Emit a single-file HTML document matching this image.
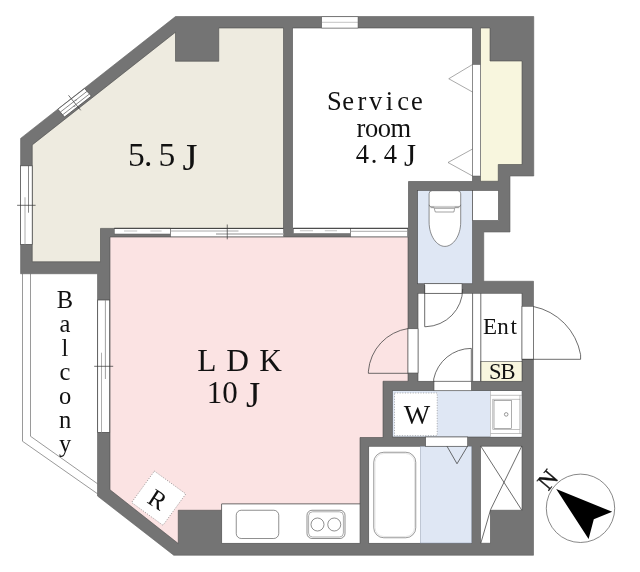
<!DOCTYPE html>
<html lang="en">
<head>
<meta charset="utf-8">
<title>Floor plan</title>
<style>
  html, body { margin: 0; padding: 0; background: #ffffff; }
  body { width: 640px; height: 572px; overflow: hidden; }
  svg { display: block; will-change: transform; }
  text { font-family: "Liberation Serif", "Noto Serif CJK JP", serif; fill: #111; }
</style>
</head>
<body>
<svg width="640" height="572" viewBox="0 0 640 572">
  <rect x="0" y="0" width="640" height="572" fill="#ffffff"/>

  <!-- ===== WALL MASS ===== -->
  <g id="walls" fill="#747474" stroke="#5e5e5e" stroke-width="0.6" stroke-linejoin="miter">
    <polygon points="175.5,16.5 533.75,16.5 533.75,176 510,176 510,232 483.75,232 483.75,281.25 533.5,281.25 533.5,555.25 173.75,555.25 97.5,496 97.5,273.75 20.6,273.75 20.6,138.4"/>
  </g>

  <!-- ===== ROOM FILLS ===== -->
  <g id="rooms" stroke="#4a4a4a" stroke-width="0.6">
    <!-- 5.5J -->
    <polygon fill="#eeebe0" points="32.25,144.9 175.5,32.2 175.5,61.25 218.75,61.25 218.75,28 283.5,28 283.5,228.4 100.5,228.4 100.5,261.75 32.25,261.75"/>
    <!-- service room -->
    <polygon fill="#ffffff" points="292.5,28 472.5,28 472.5,181.5 408.5,181.5 408.5,228.4 292.5,228.4"/>
    <!-- closet -->
    <polygon fill="#f8f6de" points="480.5,28 490,28 490,61 522,61 522,164.5 498.25,164.5 498.25,181.25 480.5,181.25"/>
    <!-- LDK -->
    <polygon fill="#fbe3e3" points="110,237 408,237 408,381.25 383,381.25 383,437.5 360,437.5 360,504 221.75,504 221.75,510.25 178.25,510.25 178.25,543.5 110,489.75"/>
    <!-- toilet -->
    <rect fill="#dfe7f4" x="417.6" y="190.4" width="55" height="93.35"/>
    <rect fill="#ffffff" x="472.6" y="190.4" width="25.9" height="30.2"/>
    <!-- hall + ent -->
    <rect fill="#ffffff" x="418" y="293.25" width="104" height="88"/>
    <rect fill="#f8f6de" x="480.8" y="361.5" width="41.2" height="19.75"/>
    <!-- washroom -->
    <rect fill="#dfe7f4" x="392.3" y="390.7" width="129.5" height="46.3"/>
    <rect fill="#ffffff" stroke="none" x="490.3" y="391" width="31.3" height="45.7"/>
    <!-- bath -->
    <rect fill="#ffffff" x="368.75" y="446.25" width="103" height="97"/>
    <rect fill="#dfe7f4" stroke="#8f9bb0" stroke-width="0.5" x="420.5" y="446.5" width="51" height="96.5"/>
    <!-- PS -->
    <polygon fill="#ffffff" points="480.5,446.25 522,446.25 522,510.25 490.5,510.25 490.5,543.25 480.5,543.25"/>
    <!-- kitchen counter -->
    <rect fill="#ffffff" x="221.75" y="504" width="138.25" height="39.25"/>
  </g>

  <!-- ===== OPENINGS (doors) ===== -->
  <g id="openings" fill="#ffffff" stroke="#4a4a4a" stroke-width="0.6">
    <rect x="408" y="328.75" width="10" height="44.25"/>
    <rect x="424.5" y="283.75" width="37.5" height="9.5"/>
    <rect x="434" y="381.25" width="37.5" height="9.5"/>
    <rect x="425.6" y="437" width="42.1" height="9.25"/>
    <rect x="522" y="306.25" width="11.5" height="53"/>
  </g>

  <!-- closet folding door -->
  <g id="closetdoor" stroke="#555" stroke-width="0.5" fill="#ffffff">
    <rect x="472.5" y="64.5" width="8" height="111.5"/>
    <polygon points="472.5,64.5 448.75,78.75 472.5,92"/>
    <polygon points="472.5,149 448,162.5 472.5,176"/>
  </g>

  <!-- ===== SLIDING DOORS (top of LDK) ===== -->
  <g id="sliding">
    <!-- 5.5J / LDK -->
    <rect x="114.3" y="228.4" width="56.3" height="5.6" fill="#fff" stroke="#555" stroke-width="0.5"/>
    <path d="M124,231 H137.2 M150.3,231 H161.6" stroke="#c4c4c4" stroke-width="1.1" fill="none"/>
    <rect x="170.6" y="228.4" width="112.9" height="8.4" fill="#fff" stroke="#555" stroke-width="0.5"/>
    <line x1="170.6" y1="228.4" x2="283.5" y2="228.4" stroke="#333" stroke-width="0.9"/>
    <line x1="170.6" y1="231" x2="238.5" y2="231" stroke="#aaa" stroke-width="1"/>
    <line x1="216" y1="234" x2="283.5" y2="234" stroke="#b4b4b4" stroke-width="1.3"/>
    <line x1="227.25" y1="224.5" x2="227.25" y2="239.3" stroke="#333" stroke-width="0.7"/>
    <!-- service / LDK -->
    <rect x="293.3" y="228.4" width="57.3" height="5.2" fill="#fff" stroke="#555" stroke-width="0.5"/>
    <path d="M299.9,230.8 H313 M324.8,230.8 H337" stroke="#c4c4c4" stroke-width="1.1" fill="none"/>
    <rect x="350.6" y="228.4" width="57" height="8.4" fill="#fff" stroke="#555" stroke-width="0.5"/>
    <line x1="350.6" y1="231.3" x2="407" y2="231.3" stroke="#aaa" stroke-width="1"/>
    <line x1="293.3" y1="228.3" x2="408" y2="228.3" stroke="#333" stroke-width="0.9"/>
    <line x1="114.3" y1="228.3" x2="170.6" y2="228.3" stroke="#333" stroke-width="0.9"/>
  </g>

  <!-- ===== WINDOWS ===== -->
  <g id="windows" stroke="#555" stroke-width="0.5">
    <!-- service room top -->
    <rect x="321.75" y="16.8" width="36.25" height="11.2" fill="#fff"/>
    <line x1="321.75" y1="22.3" x2="358" y2="22.3" stroke="#888"/>
    <!-- 5.5J left -->
    <rect x="20.4" y="165.8" width="11.8" height="78.7" fill="#fff" stroke="#444" stroke-width="0.7"/>
    <line x1="28.5" y1="165.8" x2="28.5" y2="212.7" stroke="#555" stroke-width="0.7"/>
    <line x1="25" y1="197.3" x2="25" y2="244.5" stroke="#999" stroke-width="0.8"/>
    <line x1="17.1" y1="205.3" x2="35.6" y2="205.3" stroke="#333" stroke-width="0.7"/>
    <!-- 5.5J diagonal -->
    <polygon fill="#fff" stroke="#444" stroke-width="0.7" points="57.9,109.2 84.6,88.5 91.3,96.1 64.5,117"/>
    <line x1="60.35" y1="112.1" x2="87.05" y2="91.3" stroke="#555" stroke-width="0.7"/>
    <line x1="62.65" y1="114.8" x2="89.4" y2="94" stroke="#555" stroke-width="0.7"/>
    <line x1="68.5" y1="95.3" x2="80.7" y2="110.3" stroke="#333" stroke-width="0.7"/>
    <line x1="74.6" y1="100.3" x2="76.6" y2="100.3" stroke="#666" stroke-width="0.6"/>
    <line x1="73.4" y1="106.3" x2="75.4" y2="106.3" stroke="#666" stroke-width="0.6"/>
    <!-- LDK left -->
    <rect x="97.7" y="300" width="12" height="132.4" fill="#fff" stroke="#444" stroke-width="0.7"/>
    <line x1="105.4" y1="300" x2="105.4" y2="379" stroke="#888" stroke-width="0.8"/>
    <line x1="101.5" y1="352.7" x2="101.5" y2="432.4" stroke="#999" stroke-width="0.8"/>
    <line x1="94.2" y1="366.3" x2="113.2" y2="366.3" stroke="#333" stroke-width="0.7"/>
  </g>

  <!-- ===== BALCONY ===== -->
  <g id="balcony" fill="none" stroke="#555" stroke-width="0.6">
    <polyline points="22.5,273.75 22.5,441.25 97.5,493.75"/>
    <polyline points="30.5,273.75 30.5,436.25 97.5,483.75"/>
  </g>

  <!-- ===== DOOR SWINGS ===== -->
  <g id="swings" fill="none" stroke="#3c3c3c" stroke-width="0.75">
    <!-- LDK door -->
    <path d="M408.25,373.3 H368.4 V371.2 A47,47 0 0 1 408.25,328.5"/>
    <!-- toilet door -->
    <path d="M424.7,285 V326.7 H426 A38,38 0 0 0 462.7,289"/>
    <!-- hall to washroom door -->
    <path d="M433.7,381.6 V379 A38.5,38.5 0 0 1 471.3,348.4 V381.3"/>
    <!-- entrance door -->
    <path d="M522,359.3 H580.6 V354.7 A60,60 0 0 0 533.4,306.5"/>
    <!-- bath door marker -->
    <polyline points="447,446.25 457,463.75 467.5,446.25"/>
    <!-- hall / ent step lines -->
    <line x1="472.6" y1="293.25" x2="472.6" y2="381.25"/>
    <line x1="480.8" y1="293.25" x2="480.8" y2="381.25"/>
    <!-- white box left line -->
    <!-- PS cross -->
    <line x1="480.7" y1="446" x2="521.8" y2="510.2"/>
    <polyline points="521.8,446 490.6,509.6 480.8,543.2"/>
  </g>

  <!-- ===== FIXTURES ===== -->
  <g id="fixtures" fill="#ffffff" stroke="#555" stroke-width="0.6">
    <!-- toilet -->
    <path d="M432.1,190.7 H457.7 Q460.7,190.7 460.7,193.7 V222 C460.7,236 453,246.4 444.9,246.4 C436.8,246.4 429.1,236 429.1,222 V193.7 Q429.1,190.7 432.1,190.7 Z" stroke="#444"/>
    <rect x="430.6" y="205.9" width="28.6" height="2.4" fill="#cfcfcf" stroke="none"/>
    <path d="M429.1,204.8 Q429.5,207.2 431.8,207.2 H434.2 M460.7,204.8 Q460.3,207.2 458,207.2 H454.7" fill="none" stroke="#555"/>
    <polygon points="434.2,208.3 454.7,208.3 453.9,212 435.3,212" stroke="#666"/>
    <!-- bathtub -->
    <rect x="373.75" y="452.25" width="42" height="85.5" rx="10" ry="10" stroke="#555"/>
    <rect x="375" y="453.5" width="39.5" height="83" rx="9" ry="9" stroke="#d5d5d5"/>
    <!-- kitchen sink -->
    <rect x="236.25" y="510.25" width="42.5" height="28.25" rx="5" ry="5" stroke="#444"/>
    <!-- stove -->
    <rect x="307" y="510.25" width="38" height="28.25" rx="5" ry="5" stroke="#444"/>
    <rect x="308.6" y="511.8" width="34.8" height="25.2" rx="4" ry="4" stroke="#777"/>
    <circle cx="317.5" cy="524.5" r="6.5" stroke="#444"/>
    <circle cx="334.25" cy="524.5" r="6.5" stroke="#444"/>
    <!-- washbasin -->
    <line x1="490.5" y1="395.3" x2="522" y2="395.3" stroke="#999"/>
    <line x1="490.5" y1="433.5" x2="522" y2="433.5" stroke="#999"/>
    <line x1="519.9" y1="395.3" x2="519.9" y2="433.5" stroke="#999"/>
    <rect x="492.8" y="399.2" width="27.1" height="30.4" stroke="#999"/>
    <rect x="494" y="400.4" width="17.5" height="28" stroke="#777"/>
    <line x1="490.5" y1="391" x2="490.5" y2="436.8" stroke="#aaa"/>
    <circle cx="506.2" cy="414.4" r="1.8" stroke="#555"/>
    <!-- W box -->
    <rect x="394.5" y="393" width="42.7" height="42.6" stroke="#777" stroke-dasharray="1 1.6"/>
  </g>

  <!-- R (fridge) -->
  <g transform="translate(158.7,498.2) rotate(36)">
    <rect x="-19.4" y="-19.4" width="38.8" height="38.8" fill="#ffffff" stroke="#666" stroke-width="0.6" stroke-dasharray="1 1.6"/>
  </g>
  <text transform="translate(157.4,499.6) rotate(33)" text-anchor="middle" x="0" y="8.2" font-size="25">R</text>

  <!-- ===== COMPASS ===== -->
  <circle cx="580.5" cy="508.3" r="34.2" fill="#ffffff" stroke="#555" stroke-width="0.7"/>
  <polygon points="556.2,489.1 612.2,511.8 593.8,519.3 588.6,538.9" fill="#000000"/>
  <text transform="translate(547.6,479.7) rotate(-50)" text-anchor="middle" x="0" y="8" font-size="24" stroke="#111" stroke-width="0.35">N</text>

  <!-- ===== LABELS ===== -->
  <g id="labels">
    <text font-size="33.5" text-anchor="middle" y="165.9" x="136.3 148.3 166.8">5.5<tspan font-size="38.5" x="190.1" y="169.6">J</tspan></text>

    <text font-size="26.5" text-anchor="middle" y="109.5" x="334.4 348.15 361.9 375.65 389.4 403.15 416.9">Service</text>
    <text font-size="26.5" y="136.9" x="356.5" letter-spacing="-0.4">room</text>
    <text font-size="26.5" text-anchor="middle" y="163.2" x="362.4 374 390.3">4.4<tspan font-size="31" x="410" y="166.2">J</tspan></text>

    <text font-size="31.4" text-anchor="middle" y="371.1" x="206.8 237.6 270.6">LDK</text>
    <text font-size="31" y="402.8" x="206.8">10 <tspan font-size="36.5" x="246" y="406.8">J</tspan></text>

    <text font-size="23" text-anchor="middle" y="333.5" x="490 502.9 513.8">Ent</text>
    <text font-size="22.5" text-anchor="middle" y="378.6" x="495.3 507.9">SB</text>
    <text font-size="28" text-anchor="middle" y="423.6" x="417">W</text>

    <text font-size="24.5" text-anchor="middle" x="65 65 65 65 65 65 65" y="307.5 331.6 355.7 379.8 403.9 428 452.1">Balcony</text>
  </g>
</svg>
</body>
</html>
